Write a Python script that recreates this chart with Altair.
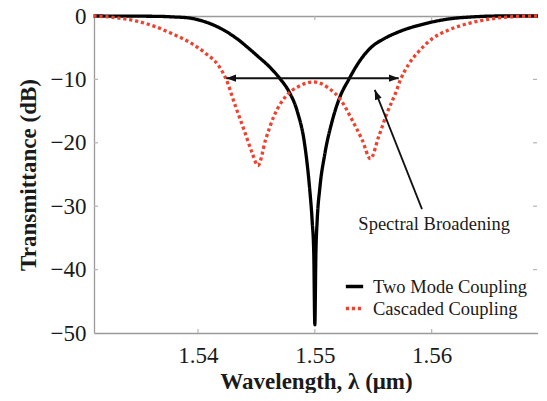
import altair as alt
import pandas as pd

# ---- data ----
series_names = ["Two Mode Coupling", "Cascaded Coupling"]

wl_two = [1.53107, 1.53641, 1.53795, 1.53923, 1.54051, 1.54151, 1.54350, 1.54436,
          1.54521, 1.54607, 1.54701, 1.54778, 1.54849, 1.54915, 1.54955, 1.54977,
          1.54991, 1.55000, 1.55009, 1.55020, 1.55043, 1.55085, 1.55148, 1.55214,
          1.55291, 1.55359, 1.55433, 1.55504, 1.55575, 1.55718, 1.55946, 1.56145,
          1.56359, 1.56573, 1.56910]
t_two = [0.0, -0.05, -0.15, -0.31, -0.86, -1.57, -3.81, -5.13,
         -6.5, -7.92, -9.87, -11.9, -15.0, -20.5, -27.1, -32.3,
         -37.5, -48.7, -37.5, -32.3, -27.1, -21.8, -16.6, -12.8,
         -10.0, -7.8, -5.9, -4.6, -3.76, -2.5, -1.2, -0.47,
         -0.13, 0.0, 0.0]

wl_cas = [1.53105, 1.53353, 1.53496, 1.53638, 1.53780, 1.53923, 1.54066, 1.54179,
          1.54237, 1.54322, 1.54393, 1.54464, 1.54513, 1.54579, 1.54650, 1.54750,
          1.54863, 1.54991, 1.55120, 1.55220, 1.55319, 1.55404, 1.55476, 1.55547,
          1.55618, 1.55690, 1.55732, 1.55803, 1.55889, 1.56003, 1.56145, 1.56288,
          1.56430, 1.56573, 1.56715, 1.56910]
t_cas = [0.0, -0.4, -0.9, -1.7, -2.8, -4.1, -5.9, -7.9,
         -9.8, -14.3, -17.9, -21.6, -23.6, -19.5, -15.8, -12.7,
         -11.1, -10.4, -11.4, -13.2, -16.4, -19.5, -22.5, -19.0,
         -15.3, -12.2, -10.1, -7.6, -5.6, -3.6, -2.2, -1.3,
         -0.7, -0.3, -0.1, 0.0]

x_ticks = [1.54, 1.55, 1.56]
y_ticks = [0, -10, -20, -30, -40, -50]
y_inner_ticks = [-10, -20, -30, -40]

arrow_h_x = [1.54242, 1.55718]
arrow_h_y = [-9.8, -9.8]
arrow_d_x = [1.55917, 1.55513]
arrow_d_y = [-30.45, -11.65]
head_x = [1.54242, 1.55718, 1.55513]
head_y = [-9.8, -9.8, -11.65]
head_angle = [270, 90, 338.5]

note_text = ["Spectral Broadening"]
note_x = [1.56021]
note_y = [-32.8]

# ---- styling ----
W, H = 444, 317
XDOM = [1.5311, 1.5691]
YDOM = [-50, 0]
SERIF = "Liberation Serif"
RED = "#f0402e"
GRAY = "#9a9a9a"
TXT = "#1a1a1a"
ARROW_PATH = "M0,0L-0.36,1L0.36,1Z"

df = pd.concat([
    pd.DataFrame({"wl": wl_two, "t": t_two, "series": series_names[0]}),
    pd.DataFrame({"wl": wl_cas, "t": t_cas, "series": series_names[1]}),
])

xs = alt.Scale(domain=XDOM, nice=False, zero=False)
ys = alt.Scale(domain=YDOM, nice=False, zero=False)

legend = alt.Legend(
    title=None, orient="none", legendX=250, legendY=260, padding=0,
    symbolType="stroke", symbolSize=300, symbolStrokeWidth=3.4,
    labelFont=SERIF, labelFontSize=18.5, labelColor=TXT, labelOffset=8,
    rowPadding=2, labelLimit=300,
)

lines = alt.Chart(df).mark_line(interpolate="monotone", strokeWidth=3.3).encode(
    x=alt.X("wl:Q", scale=xs, axis=alt.Axis(
        values=x_ticks, format=".2f", title="Wavelength, λ (μm)",
        ticks=False, labelPadding=11, titlePadding=3,
        labelFontSize=23, titleFontSize=23, titleFontWeight="bold")),
    y=alt.Y("t:Q", scale=ys, axis=alt.Axis(
        values=y_ticks, title="Transmittance (dB)",
        ticks=False, labelPadding=8, titlePadding=10,
        labelFontSize=23, titleFontSize=23, titleFontWeight="bold")),
    color=alt.Color("series:N", scale=alt.Scale(domain=series_names, range=["#000000", RED]),
                    legend=legend),
    strokeDash=alt.StrokeDash("series:N",
                              scale=alt.Scale(domain=series_names, range=[[1, 0], [3.2, 2.8]]),
                              legend=legend),
)

xt = pd.DataFrame({"v": x_ticks})
yt = pd.DataFrame({"v": y_inner_ticks})

top_ticks = alt.Chart(xt).mark_rule(color="#b5b5b5", strokeWidth=1.2).encode(
    x=alt.X("v:Q", scale=xs, axis=alt.Axis(orient="top", labels=False, ticks=False,
                                           title=None, values=x_ticks)),
    y=alt.value(0), y2=alt.value(4),
)
bottom_ticks = alt.Chart(xt).mark_rule(color="#b5b5b5", strokeWidth=1.2).encode(
    x=alt.X("v:Q", scale=xs, axis=None),
    y=alt.value(H - 4), y2=alt.value(H),
)
left_ticks = alt.Chart(yt).mark_rule(color="#b5b5b5", strokeWidth=1.2).encode(
    y=alt.Y("v:Q", scale=ys, axis=None),
    x=alt.value(0), x2=alt.value(4),
)
right_ticks = alt.Chart(yt).mark_rule(color="#b5b5b5", strokeWidth=1.2).encode(
    y=alt.Y("v:Q", scale=ys, axis=None),
    x=alt.value(W - 5), x2=alt.value(W - 1),
)

h_arrow = alt.Chart(pd.DataFrame({"x": arrow_h_x, "y": arrow_h_y})).mark_line(
    color="#111111", strokeWidth=2).encode(
    x=alt.X("x:Q", scale=xs, axis=None), y=alt.Y("y:Q", scale=ys, axis=None))
d_arrow = alt.Chart(pd.DataFrame({"x": arrow_d_x, "y": arrow_d_y})).mark_line(
    color="#111111", strokeWidth=1.8).encode(
    x=alt.X("x:Q", scale=xs, axis=None), y=alt.Y("y:Q", scale=ys, axis=None))
heads = alt.Chart(pd.DataFrame({"x": head_x, "y": head_y, "a": head_angle})).mark_point(
    shape=ARROW_PATH, filled=True, size=380, color="#111111", opacity=1, strokeWidth=0).encode(
    x=alt.X("x:Q", scale=xs, axis=None), y=alt.Y("y:Q", scale=ys, axis=None),
    angle=alt.Angle("a:Q", scale=None))
note = alt.Chart(pd.DataFrame({"x": note_x, "y": note_y, "s": note_text})).mark_text(
    font=SERIF, fontSize=18.5, color=TXT, align="center", baseline="middle").encode(
    x=alt.X("x:Q", scale=xs, axis=None), y=alt.Y("y:Q", scale=ys, axis=None), text="s:N")

chart = alt.layer(
    top_ticks, bottom_ticks, left_ticks, right_ticks, lines, h_arrow, d_arrow, heads, note
).resolve_axis(x="independent", y="independent").properties(
    width=W, height=H,
    autosize=alt.AutoSizeParams(type="none"),
    padding={"left": 86, "top": 8, "right": 0, "bottom": 60},
).configure_view(stroke=None).configure_axis(
    domainColor=GRAY, domainWidth=1.3, grid=False,
    labelFont=SERIF, titleFont=SERIF, labelColor=TXT, titleColor=TXT,
)

chart.save("out.html", embed_options={"renderer": "svg", "actions": False})
